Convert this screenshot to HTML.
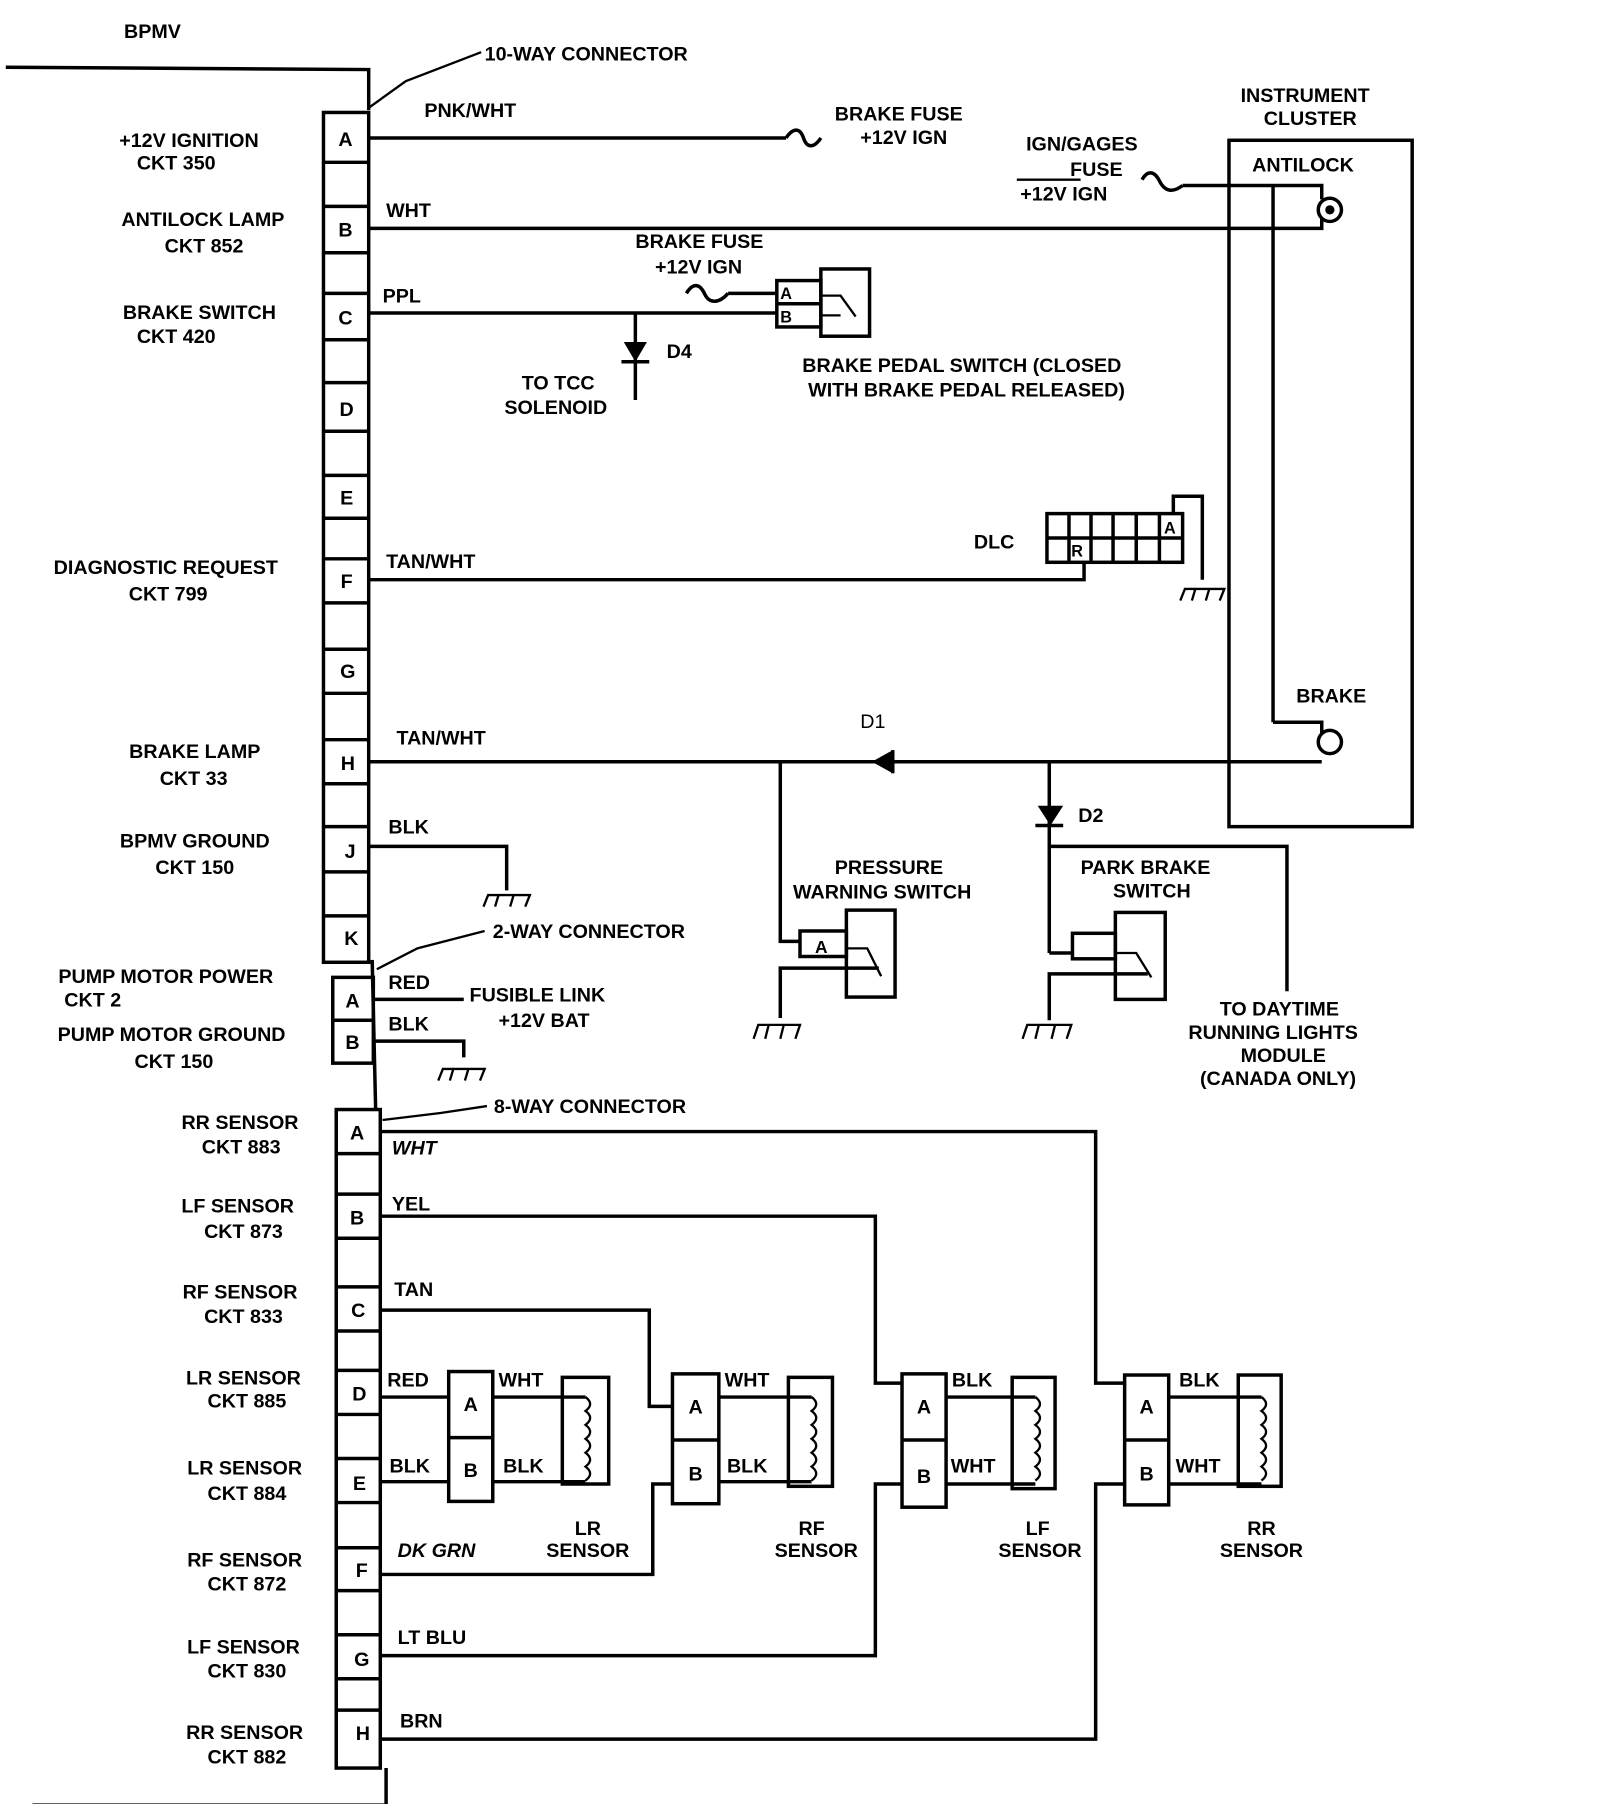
<!DOCTYPE html>
<html><head><meta charset="utf-8"><style>
html,body{margin:0;padding:0;background:#fff;}
svg{display:block;}
text{font-family:"Liberation Sans",sans-serif;font-weight:bold;font-size:17px;fill:#000;}
.m{text-anchor:middle;}
.i{font-style:italic;}
</style></head><body>
<svg width="1600" height="1804" viewBox="0 0 1380 1556" preserveAspectRatio="none" xmlns="http://www.w3.org/2000/svg">
<g fill="none" stroke="#000" stroke-width="3">
<polyline points="5,58 318,60 318,95"/>
<polyline points="28,1557 333,1557 333,1525"/>
<line x1="321" y1="828" x2="324" y2="957"/>
<rect x="279" y="97" width="39" height="733"/>
<path d="M279,140H318M279,178H318M279,218H318M279,253H318M279,293H318M279,330H318M279,372H318M279,410H318M279,447H318M279,482H318M279,520H318M279,560H318M279,598H318M279,638H318M279,676H318M279,713H318M279,752H318M279,790H318"/>
<rect x="287" y="843" width="35" height="74"/>
<line x1="287" y1="880" x2="322" y2="880"/>
<rect x="290" y="957" width="38" height="568"/>
<path d="M290,995H328M290,1030H328M290,1068H328M290,1110H328M290,1148H328M290,1182H328M290,1220H328M290,1258H328M290,1296H328M290,1335H328M290,1372H328M290,1410H328M290,1448H328M290,1475H328"/>
<polyline points="318,93 350,70 415,45" stroke-width="2"/>
<polyline points="325,836 360,818 418,803" stroke-width="2"/>
<polyline points="330,966 380,960 420,954" stroke-width="2"/>
<line x1="318" y1="119" x2="678" y2="119"/>
<path d="M678,119 C684,110 690,110 693,119 C696,128 702,128 708,119"/>
<polyline points="318,197 1140,197 1140,188"/>
<circle cx="1147" cy="181" r="10"/>
<line x1="877" y1="155" x2="932" y2="155" stroke-width="2"/>
<path d="M985,155 C990,146 996,148 1000,156 C1005,166 1012,166 1020,160"/>
<polyline points="1020,160 1140,160 1140,172"/>
<line x1="1098" y1="160" x2="1098" y2="623"/>
<polyline points="1098,623 1140,623 1140,632"/>
<circle cx="1147" cy="640" r="10"/>
<rect x="1060" y="121" width="158" height="592"/>
<line x1="318" y1="270" x2="670" y2="270"/>
<path d="M592,253 C598,243 604,245 608,254 C612,262 620,262 628,253"/>
<line x1="628" y1="253" x2="670" y2="253"/>
<rect x="670" y="242" width="38" height="40"/>
<line x1="670" y1="262" x2="708" y2="262"/>
<rect x="708" y="232" width="42" height="58"/>
<polyline points="708,255 725,255 738,273" stroke-width="2"/>
<polyline points="708,272 725,272" stroke-width="2"/>
<line x1="548" y1="270" x2="548" y2="345"/>
<line x1="536" y1="312" x2="560" y2="312"/>
<polyline points="318,500 935,500 935,485"/>
<rect x="903" y="443" width="117" height="42"/>
<path d="M903,464H1020M922,443V485M941,443V485M960,443V485M980,443V485M1000,443V485"/>
<polyline points="1012,443 1012,428 1037,428 1037,500"/>
<line x1="318" y1="657" x2="1140" y2="657"/>
<line x1="770" y1="647" x2="770" y2="667"/>
<polyline points="673,657 673,812 690,812"/>
<rect x="690" y="803" width="40" height="22"/>
<rect x="730" y="785" width="42" height="75"/>
<polyline points="730,818 748,818 760,842" stroke-width="2"/>
<polyline points="673,878 673,835 758,835" />
<line x1="905" y1="657" x2="905" y2="822"/>
<line x1="893" y1="712" x2="917" y2="712"/>
<polyline points="905,822 925,822"/>
<rect x="925" y="805" width="37" height="22"/>
<rect x="962" y="787" width="43" height="75"/>
<polyline points="962,822 980,822 993,843" stroke-width="2"/>
<polyline points="905,880 905,840 990,840"/>
<polyline points="905,730 1110,730 1110,855"/>
<polyline points="318,730 437,730 437,768"/>
<line x1="322" y1="862" x2="400" y2="862"/>
<polyline points="322,898 400,898 400,912"/>
<polyline points="328,976 945,976 945,1193 970,1193"/>
<polyline points="328,1500 945,1500 945,1280 970,1280"/>
<polyline points="328,1049 755,1049 755,1193 778,1193"/>
<polyline points="328,1428 755,1428 755,1280 778,1280"/>
<polyline points="328,1130 560,1130 560,1213 580,1213"/>
<polyline points="328,1358 563,1358 563,1280 580,1280"/>
<line x1="328" y1="1205" x2="387" y2="1205"/>
<line x1="328" y1="1278" x2="387" y2="1278"/>
<rect x="387" y="1183" width="38" height="112"/><line x1="387" y1="1240" x2="425" y2="1240"/>
<line x1="425" y1="1205" x2="505" y2="1205"/><line x1="425" y1="1278" x2="505" y2="1278"/>
<rect x="485" y="1188" width="40" height="92"/>
<rect x="580" y="1185" width="40" height="112"/><line x1="580" y1="1242" x2="620" y2="1242"/>
<line x1="620" y1="1205" x2="700" y2="1205"/><line x1="620" y1="1278" x2="700" y2="1278"/>
<rect x="680" y="1188" width="38" height="94"/>
<rect x="778" y="1185" width="38" height="115"/><line x1="778" y1="1242" x2="816" y2="1242"/>
<line x1="816" y1="1205" x2="893" y2="1205"/><line x1="816" y1="1280" x2="893" y2="1280"/>
<rect x="873" y="1188" width="37" height="96"/>
<rect x="970" y="1186" width="38" height="112"/><line x1="970" y1="1242" x2="1008" y2="1242"/>
<line x1="1008" y1="1205" x2="1088" y2="1205"/><line x1="1008" y1="1280" x2="1088" y2="1280"/>
<rect x="1068" y="1186" width="37" height="96"/>
</g>
<g fill="none" stroke="#000" stroke-width="2">
<path d="M505,1205 q8,6 0,12 q8,6 0,12 q8,6 0,12 q8,6 0,12 q8,6 0,12 q8,6 0,12"/>
<path d="M700,1205 q8,6 0,12 q8,6 0,12 q8,6 0,12 q8,6 0,12 q8,6 0,12 q8,6 0,12"/>
<path d="M893,1205 q8,6 0,12 q8,6 0,12 q8,6 0,12 q8,6 0,12 q8,6 0,12 q8,6 0,12"/>
<path d="M1088,1205 q8,6 0,12 q8,6 0,12 q8,6 0,12 q8,6 0,12 q8,6 0,12 q8,6 0,12"/>
<path d="M417,782 l4,-10 h36 l-4,10 M430,772 l-3,10 M443,772 l-3,10"/>
<path d="M378,932 l4,-10 h36 l-4,10 M391,922 l-3,10 M404,922 l-3,10"/>
<path d="M1018,518 l4,-10 h34 l-4,10 M1031,508 l-3,10 M1043,508 l-3,10"/>
<path d="M650,896 l4,-12 h36 l-4,12 M663,884 l-3,12 M676,884 l-3,12"/>
<path d="M882,896 l4,-12 h38 l-4,12 M896,884 l-3,12 M910,884 l-3,12"/>
</g>
<polygon points="538,295 558,295 548,312" fill="#000"/>
<polygon points="895,695 917,695 906,712" fill="#000"/>
<polygon points="752,657 770,647 770,667" fill="#000"/>
<circle cx="1147" cy="181" r="4" fill="#000"/>
<text x="107" y="33">BPMV</text>
<text x="418" y="52">10-WAY CONNECTOR</text>
<text class="m" x="163" y="127">+12V IGNITION</text><text class="m" x="152" y="146">CKT 350</text>
<text class="m" x="175" y="195">ANTILOCK LAMP</text><text class="m" x="176" y="218">CKT 852</text>
<text class="m" x="172" y="275">BRAKE SWITCH</text><text class="m" x="152" y="296">CKT 420</text>
<text class="m" x="143" y="495">DIAGNOSTIC REQUEST</text><text class="m" x="145" y="518">CKT 799</text>
<text class="m" x="168" y="654">BRAKE LAMP</text><text class="m" x="167" y="677">CKT 33</text>
<text class="m" x="168" y="731">BPMV GROUND</text><text class="m" x="168" y="754">CKT 150</text>
<text class="m" x="143" y="848">PUMP MOTOR POWER</text><text class="m" x="80" y="868">CKT 2</text>
<text class="m" x="148" y="898">PUMP MOTOR GROUND</text><text class="m" x="150" y="921">CKT 150</text>
<text class="m" x="207" y="974">RR SENSOR</text><text class="m" x="208" y="995">CKT 883</text>
<text class="m" x="205" y="1046">LF SENSOR</text><text class="m" x="210" y="1068">CKT 873</text>
<text class="m" x="207" y="1120">RF SENSOR</text><text class="m" x="210" y="1141">CKT 833</text>
<text class="m" x="210" y="1194">LR SENSOR</text><text class="m" x="213" y="1214">CKT 885</text>
<text class="m" x="211" y="1272">LR SENSOR</text><text class="m" x="213" y="1294">CKT 884</text>
<text class="m" x="211" y="1351">RF SENSOR</text><text class="m" x="213" y="1372">CKT 872</text>
<text class="m" x="210" y="1426">LF SENSOR</text><text class="m" x="213" y="1447">CKT 830</text>
<text class="m" x="211" y="1500">RR SENSOR</text><text class="m" x="213" y="1521">CKT 882</text>
<text class="m" x="298" y="126">A</text><text class="m" x="298" y="204">B</text><text class="m" x="298" y="280">C</text>
<text class="m" x="299" y="359">D</text><text class="m" x="299" y="435">E</text><text class="m" x="299" y="507">F</text>
<text class="m" x="300" y="585">G</text><text class="m" x="300" y="664">H</text><text class="m" x="302" y="740">J</text>
<text class="m" x="303" y="815">K</text>
<text class="m" x="304" y="869">A</text><text class="m" x="304" y="905">B</text>
<text class="m" x="308" y="983">A</text><text class="m" x="308" y="1056">B</text><text class="m" x="309" y="1136">C</text>
<text class="m" x="310" y="1208">D</text><text class="m" x="310" y="1285">E</text><text class="m" x="312" y="1360">F</text>
<text class="m" x="312" y="1437">G</text><text class="m" x="313" y="1501">H</text>
<text x="366" y="101">PNK/WHT</text>
<text x="720" y="104">BRAKE FUSE</text><text x="742" y="124">+12V IGN</text>
<text x="1070" y="88">INSTRUMENT</text><text x="1090" y="108">CLUSTER</text>
<text x="885" y="130">IGN/GAGES</text><text x="923" y="152">FUSE</text><text x="880" y="173">+12V IGN</text>
<text x="1080" y="148">ANTILOCK</text>
<text x="333" y="187">WHT</text>
<text x="548" y="214">BRAKE FUSE</text><text x="565" y="236">+12V IGN</text>
<text x="330" y="261">PPL</text>
<text x="673" y="258" style="font-size:14px">A</text><text x="673" y="278" style="font-size:14px">B</text>
<text x="575" y="309">D4</text>
<text x="450" y="336">TO TCC</text><text x="435" y="357">SOLENOID</text>
<text x="692" y="321">BRAKE PEDAL SWITCH (CLOSED</text><text x="697" y="342">WITH BRAKE PEDAL RELEASED)</text>
<text x="840" y="473">DLC</text>
<text x="1004" y="460" style="font-size:14px">A</text><text x="924" y="480" style="font-size:14px">R</text>
<text x="333" y="490">TAN/WHT</text>
<text x="1118" y="606">BRAKE</text>
<text x="742" y="628" style="font-weight:normal">D1</text>
<text x="342" y="642">TAN/WHT</text>
<text x="930" y="709">D2</text>
<text x="335" y="719">BLK</text>
<text x="720" y="754">PRESSURE</text><text x="684" y="775">WARNING SWITCH</text>
<text x="932" y="754">PARK BRAKE</text><text x="960" y="774">SWITCH</text>
<text x="703" y="822" style="font-size:15px">A</text>
<text x="425" y="809">2-WAY CONNECTOR</text>
<text x="335" y="853">RED</text>
<text x="405" y="864">FUSIBLE LINK</text><text x="430" y="886">+12V BAT</text>
<text x="335" y="889">BLK</text>
<text x="1052" y="876">TO DAYTIME</text><text x="1025" y="896">RUNNING LIGHTS</text><text x="1070" y="916">MODULE</text><text x="1035" y="936">(CANADA ONLY)</text>
<text x="426" y="960">8-WAY CONNECTOR</text>
<text class="i" x="338" y="996">WHT</text>
<text x="338" y="1044">YEL</text>
<text x="340" y="1118">TAN</text>
<text x="334" y="1196">RED</text><text x="430" y="1196">WHT</text>
<text x="336" y="1270">BLK</text><text x="434" y="1270">BLK</text>
<text class="m" x="406" y="1217">A</text><text class="m" x="406" y="1274">B</text>
<text class="i" x="343" y="1343">DK GRN</text>
<text class="m" x="507" y="1324">LR</text><text class="m" x="507" y="1343">SENSOR</text>
<text class="m" x="600" y="1219">A</text><text class="m" x="600" y="1277">B</text>
<text x="625" y="1196">WHT</text><text x="627" y="1270">BLK</text>
<text class="m" x="700" y="1324">RF</text><text class="m" x="704" y="1343">SENSOR</text>
<text class="m" x="797" y="1219">A</text><text class="m" x="797" y="1279">B</text>
<text x="821" y="1196">BLK</text><text x="820" y="1270">WHT</text>
<text class="m" x="895" y="1324">LF</text><text class="m" x="897" y="1343">SENSOR</text>
<text class="m" x="989" y="1219">A</text><text class="m" x="989" y="1277">B</text>
<text x="1017" y="1196">BLK</text><text x="1014" y="1270">WHT</text>
<text class="m" x="1088" y="1324">RR</text><text class="m" x="1088" y="1343">SENSOR</text>
<text x="343" y="1418">LT BLU</text>
<text x="345" y="1490">BRN</text>
</svg>
</body></html>
